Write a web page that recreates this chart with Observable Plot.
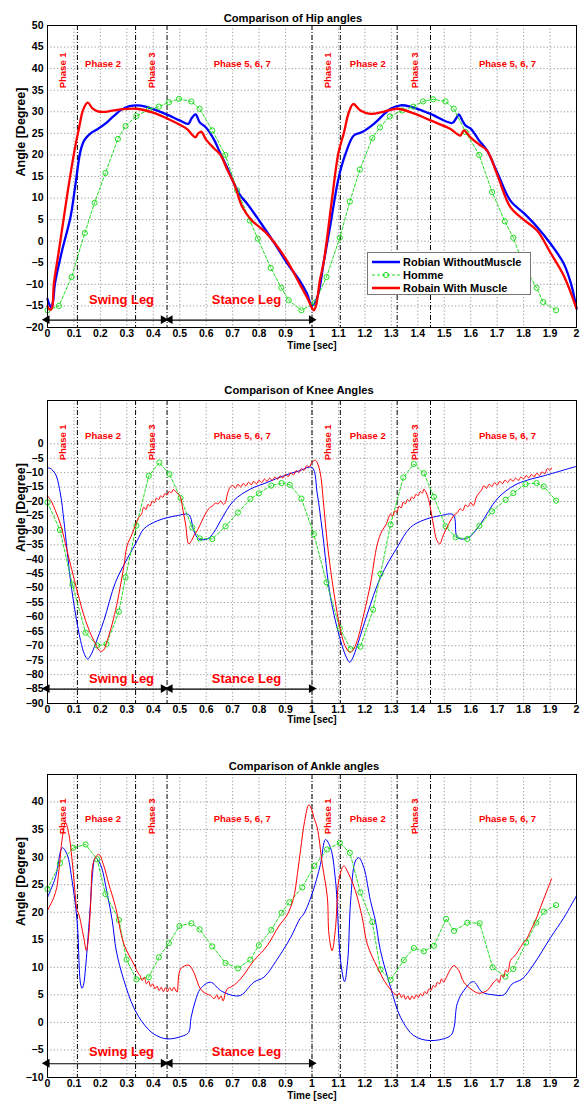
<!DOCTYPE html>
<html><head><meta charset="utf-8">
<script src="https://cdn.jsdelivr.net/npm/d3@7"></script>
<script src="https://cdn.jsdelivr.net/npm/@observablehq/plot@0.6"></script>
<style>
body{margin:0;background:#fff;font-family:"Liberation Sans",Arial,sans-serif;}
#wrap{position:relative;width:586px;}
#wrap svg{display:block;}
.legend{position:absolute;background:#fff;border:1px solid #777;box-sizing:border-box;font-weight:bold;font-size:11px;padding-top:2px;}
.legend .row{display:flex;align-items:center;height:13.3px;}
.legend svg{margin:0 3px 0 4px;}
</style></head><body><div id="wrap"></div>
<script>
// ---------- shared axes / annotations ----------
const xTicks = [0,0.1,0.2,0.3,0.4,0.5,0.6,0.7,0.8,0.9,1,1.1,1.2,1.3,1.4,1.5,1.6,1.7,1.8,1.9,2];
const hipTicks = [-20,-15,-10,-5,0,5,10,15,20,25,30,35,40,45,50];
const kneeTicks = [-90,-85,-80,-75,-70,-65,-60,-55,-50,-45,-40,-35,-30,-25,-20,-15,-10,-5,0];
const ankleTicks = [-10,-5,0,5,10,15,20,25,30,35,40];
const phaseLines = [0.113,0.333,0.452,1.0,1.107,1.322,1.448,2.0];
const phaseNames = ["Phase 1","Phase 2","Phase 3","Phase 5, 6, 7","Phase 1","Phase 2","Phase 3","Phase 5, 6, 7"];
const phaseCenters = [0.06,0.21,0.396,0.736,1.06,1.211,1.388,1.739];
const phaseVertical = [true,false,true,false,true,false,true,false];
const legNames = ["Swing Leg","Stance Leg"];
const legStart = [0,0.465];
const legEnd = [0.44,1.0];
const legCenter = [0.28,0.752];
const seriesNames = ["Robian WithoutMuscle","Homme","Robain With Muscle"];
const seriesColors = ["#0000ff","#22dd22","#ff0000"];
const panelTitles = ["Comparison of Hip angles","Comparison of Knee Angles","Comparison of Ankle angles"];

// ---------- Hip ----------
const hipWithout = [[0,-13.4],[0.008,-14.8],[0.015,-15.3],[0.022,-13.5],[0.028,-9.9],[0.055,-2.2],[0.087,5.6],[0.106,13.3],[0.125,21],[0.14,23.5],[0.163,25],[0.19,26],[0.22,27.3],[0.25,29],[0.28,30.5],[0.31,31.3],[0.34,31.5],[0.37,31.2],[0.4,30.6],[0.45,29.4],[0.5,28],[0.532,27.2],[0.545,28.5],[0.56,29.4],[0.575,27.6],[0.6,26.3],[0.63,23.5],[0.654,20.3],[0.68,17],[0.705,13.4],[0.73,10.5],[0.755,8.7],[0.8,4.8],[0.868,-1.4],[0.905,-5],[0.954,-9.2],[0.98,-12],[1.0,-14.9],[1.02,-13],[1.045,-4.6],[1.07,4],[1.1,14.5],[1.127,20.3],[1.158,24.5],[1.19,25.3],[1.234,27.2],[1.297,30.7],[1.335,31.5],[1.372,31.2],[1.448,29.5],[1.53,27.4],[1.545,28.5],[1.555,29.4],[1.57,27.8],[1.581,26.8],[1.6,26.1],[1.63,23.5],[1.662,21],[1.7,16],[1.75,9.4],[1.801,6.5],[1.851,3.3],[1.902,-0.6],[1.952,-5.2],[1.98,-10],[2.0,-15.6]];
const hipHomme = [[0,-16],[0.043,-15],[0.091,-8.3],[0.141,1.9],[0.178,8.9],[0.219,15.8],[0.266,23.7],[0.295,26.7],[0.336,29],[0.383,30.5],[0.421,31.2],[0.459,32.2],[0.497,33],[0.544,32.4],[0.575,30.7],[0.623,25.7],[0.672,20],[0.717,11.8],[0.765,4.8],[0.795,0.6],[0.844,-6.2],[0.884,-10.8],[0.912,-13.7],[0.96,-16],[1.01,-14.3],[1.055,-8.3],[1.105,0.8],[1.143,9.2],[1.181,16.6],[1.228,23.9],[1.257,26.4],[1.294,28.9],[1.341,30.3],[1.383,31.2],[1.42,32.4],[1.458,32.9],[1.505,32.4],[1.536,30.7],[1.581,25.3],[1.632,20],[1.681,11.4],[1.729,4.6],[1.761,0.8],[1.801,-5.6],[1.849,-10.8],[1.874,-14.1],[1.923,-16]];
const hipWith = [[0,-15],[0.011,-15.9],[0.018,-15.2],[0.024,-9.9],[0.043,-2.2],[0.062,5.6],[0.081,13.3],[0.102,21],[0.12,26.5],[0.135,30.5],[0.152,32.1],[0.17,30.8],[0.19,30.1],[0.22,30],[0.27,30.5],[0.336,30.7],[0.4,29.8],[0.45,28.5],[0.5,27],[0.528,26],[0.545,24.8],[0.559,24.1],[0.57,25],[0.581,25.4],[0.6,23.5],[0.63,21.5],[0.654,20],[0.68,16.5],[0.705,13.4],[0.736,8],[0.77,5],[0.83,1.7],[0.9,-4],[0.957,-10.3],[0.985,-13.5],[1.0,-15.5],[1.007,-16],[1.015,-15],[1.03,-9],[1.045,-4.6],[1.076,10],[1.1,20.5],[1.12,25],[1.14,30],[1.156,31.8],[1.183,30.3],[1.221,29.5],[1.27,30],[1.322,30.7],[1.39,29.5],[1.448,28],[1.524,26],[1.545,25],[1.561,24.5],[1.574,25.7],[1.6,24],[1.63,22.5],[1.662,21],[1.7,15.5],[1.75,7.9],[1.8,5],[1.851,2.5],[1.9,-2.5],[1.952,-8],[2.0,-15.6]];

// ---------- Knee ----------
const kneeWithout = [[0,-8.4],[0.01,-8.5],[0.03,-10.5],[0.049,-17.4],[0.062,-26.7],[0.087,-47.4],[0.106,-59],[0.125,-68.2],[0.14,-73],[0.152,-74.6],[0.165,-73],[0.181,-69.4],[0.213,-61.3],[0.257,-48],[0.301,-39.9],[0.339,-33.6],[0.364,-29.5],[0.415,-26.7],[0.49,-24.9],[0.534,-24.6],[0.553,-30.1],[0.572,-33],[0.604,-33],[0.629,-30.7],[0.654,-26.7],[0.704,-19.7],[0.767,-15.7],[0.83,-13.4],[0.893,-11.1],[0.954,-9.3],[1.0,-8.2],[1.02,-17.4],[1.039,-30.1],[1.07,-53.2],[1.108,-68.2],[1.13,-74],[1.143,-75.7],[1.155,-74],[1.171,-69.9],[1.209,-59],[1.259,-46.3],[1.322,-35.9],[1.372,-29],[1.423,-26.4],[1.486,-24.9],[1.534,-24.6],[1.549,-32.4],[1.574,-33],[1.6,-31.9],[1.637,-27.8],[1.7,-19.1],[1.763,-14.5],[1.814,-12.6],[1.876,-11.1],[2.0,-7.8]];
const kneeHomme = [[0,-20.3],[0.047,-29.9],[0.094,-48.8],[0.144,-65.5],[0.188,-69.9],[0.223,-69.4],[0.27,-58.2],[0.295,-46.3],[0.336,-28.4],[0.383,-11.1],[0.423,-6.5],[0.461,-10.5],[0.503,-18.8],[0.547,-29],[0.576,-32.8],[0.623,-33],[0.673,-28.6],[0.72,-23.8],[0.767,-19.1],[0.799,-17.2],[0.846,-14.5],[0.885,-13.6],[0.916,-14.2],[0.96,-19],[1.007,-31.3],[1.055,-48],[1.105,-63.9],[1.146,-71.1],[1.183,-70.3],[1.231,-57.5],[1.259,-45.1],[1.297,-28],[1.345,-11.7],[1.385,-7],[1.423,-10.2],[1.461,-18.4],[1.505,-28.6],[1.543,-32.4],[1.587,-33],[1.633,-28.4],[1.681,-23.4],[1.732,-19.4],[1.761,-17.1],[1.807,-14],[1.849,-13.6],[1.876,-14.8],[1.923,-19.7]];
const kneeWith = [[0,-18],[0.015,-20],[0.03,-23.2],[0.049,-27.8],[0.062,-32.4],[0.074,-37],[0.112,-50.9],[0.144,-61.3],[0.175,-68.2],[0.2,-71.9],[0.212,-71.5],[0.226,-68.2],[0.257,-57.8],[0.288,-42.8],[0.301,-35.3],[0.32,-31.3],[0.334,-27.8],[0.345,-25.5],[0.355,-24.5],[0.364,-22],[0.372,-22.8],[0.38,-21],[0.388,-21.6],[0.396,-19.8],[0.404,-20.4],[0.412,-18.8],[0.42,-19.4],[0.428,-18],[0.436,-18.6],[0.444,-17.2],[0.452,-17.8],[0.46,-16.5],[0.468,-17],[0.476,-15.8],[0.485,-16.6],[0.495,-17.5],[0.503,-18.6],[0.512,-23],[0.522,-27.8],[0.534,-34.7],[0.545,-33.5],[0.555,-31.5],[0.566,-30.1],[0.585,-26.5],[0.604,-23.2],[0.615,-22],[0.625,-21.5],[0.635,-20.5],[0.645,-20.8],[0.655,-19.8],[0.665,-21],[0.672,-20.5],[0.68,-17.5],[0.69,-15.1],[0.7,-14.4],[0.71,-15.4],[0.72,-14],[0.73,-15],[0.74,-13.7],[0.75,-14.6],[0.76,-13.3],[0.77,-14.2],[0.78,-13],[0.79,-13.9],[0.8,-12.6],[0.81,-13.5],[0.82,-12.2],[0.83,-13],[0.84,-11.9],[0.85,-12.7],[0.86,-11.5],[0.87,-12.3],[0.88,-11.1],[0.89,-11.9],[0.9,-10.6],[0.91,-11.4],[0.92,-10],[0.93,-10.8],[0.94,-9.3],[0.95,-10],[0.96,-8.6],[0.97,-9.2],[0.98,-7.6],[0.99,-8],[1.0,-6.5],[1.013,-5.7],[1.022,-7],[1.032,-10.5],[1.045,-22],[1.057,-33.6],[1.076,-47.4],[1.108,-64.7],[1.125,-70],[1.143,-72.3],[1.155,-71.5],[1.171,-68.2],[1.196,-59],[1.221,-48.6],[1.247,-34.7],[1.265,-30.1],[1.28,-28],[1.297,-24.3],[1.305,-25],[1.313,-23.2],[1.321,-23.8],[1.329,-21.6],[1.337,-22.2],[1.345,-20.2],[1.353,-20.8],[1.361,-19.3],[1.369,-19.9],[1.377,-18.4],[1.385,-19],[1.393,-17.5],[1.401,-18],[1.409,-16.6],[1.417,-17.1],[1.423,-15.7],[1.432,-17],[1.442,-19.7],[1.451,-24],[1.461,-29],[1.47,-33],[1.483,-34.7],[1.495,-32],[1.51,-29],[1.536,-24.9],[1.55,-23.8],[1.56,-22.5],[1.57,-23.2],[1.58,-21.2],[1.59,-21.8],[1.6,-20.3],[1.61,-21.5],[1.62,-18.8],[1.63,-17.2],[1.64,-16.2],[1.65,-14.5],[1.66,-15.4],[1.67,-14],[1.68,-14.8],[1.69,-13.5],[1.7,-14.3],[1.71,-13],[1.72,-13.8],[1.73,-12.6],[1.74,-13.4],[1.75,-12.2],[1.76,-13],[1.77,-11.9],[1.78,-12.7],[1.79,-11.5],[1.8,-12.2],[1.81,-11],[1.82,-11.8],[1.83,-10.6],[1.84,-11.4],[1.85,-10.2],[1.86,-11],[1.87,-9.7],[1.88,-10.4],[1.89,-8.6],[1.9,-9.2],[1.905,-8.4]];

// ---------- Ankle ----------
const ankleWithout = [[0,22.7],[0.03,26.3],[0.056,31.7],[0.074,30.5],[0.093,25.7],[0.112,18.4],[0.125,7],[0.131,6.2],[0.137,7],[0.144,10],[0.156,17.2],[0.163,22],[0.169,26.3],[0.181,29.9],[0.2,28.7],[0.226,23.3],[0.245,18.4],[0.26,13],[0.289,7.6],[0.326,2.7],[0.364,-0.3],[0.402,-2.1],[0.452,-3],[0.515,-2.4],[0.534,-1.8],[0.543,0.9],[0.559,3.9],[0.578,6.1],[0.616,7.3],[0.654,5.8],[0.692,5],[0.73,4.9],[0.78,7.3],[0.818,8.2],[0.869,11.5],[0.919,15.4],[0.954,18.8],[0.969,19.7],[1.0,23.3],[1.032,28.7],[1.051,33.2],[1.07,31.7],[1.089,25.7],[1.108,11.2],[1.123,7.4],[1.135,11.2],[1.146,22],[1.164,29.3],[1.177,29.9],[1.196,28.1],[1.221,22.1],[1.24,18.4],[1.259,13],[1.297,6.4],[1.335,0.9],[1.385,-2.4],[1.448,-3.3],[1.524,-2.4],[1.537,-0.9],[1.549,3.4],[1.574,5.8],[1.61,7.4],[1.643,5.5],[1.687,5],[1.725,5],[1.757,7],[1.795,7.9],[1.839,10.6],[1.902,15.4],[1.952,19],[2.0,23]];
const ankleHomme = [[0,24.2],[0.047,28.9],[0.097,31.7],[0.144,32.3],[0.188,29.6],[0.219,23.3],[0.27,18.6],[0.299,11.4],[0.336,7.8],[0.383,8.2],[0.421,11.8],[0.459,14.4],[0.499,17.5],[0.544,18],[0.575,16.9],[0.623,13.8],[0.673,10.8],[0.72,9.8],[0.767,11.4],[0.799,14],[0.846,16.8],[0.885,19.9],[0.914,21.8],[0.963,24.5],[1.009,28.4],[1.057,31.4],[1.105,32.6],[1.143,30.8],[1.183,23.6],[1.228,18.2],[1.259,9.6],[1.297,7.7],[1.347,11.3],[1.385,13.5],[1.423,12.9],[1.461,13.9],[1.507,18.8],[1.537,16.6],[1.587,18.1],[1.634,18],[1.683,10],[1.731,8.3],[1.761,9.7],[1.81,14.5],[1.848,18.1],[1.877,20.1],[1.923,21.3]];
const ankleWith = [[0,20.3],[0.024,22.7],[0.035,24.5],[0.043,27.5],[0.056,33.5],[0.068,36.3],[0.081,34.1],[0.097,27.5],[0.112,20.3],[0.118,19.7],[0.137,15.4],[0.147,13],[0.156,16],[0.163,21.5],[0.175,29.3],[0.194,30.5],[0.213,28.4],[0.232,25.1],[0.257,21],[0.289,14.2],[0.326,10.6],[0.342,9],[0.35,8.5],[0.358,7.6],[0.366,8.2],[0.374,7],[0.382,7.5],[0.39,6.5],[0.398,7],[0.406,6.1],[0.414,6.6],[0.422,5.8],[0.43,6.4],[0.438,5.6],[0.446,6.3],[0.454,5.6],[0.462,6.3],[0.47,5.7],[0.478,6.4],[0.486,5.7],[0.49,5.5],[0.503,9.7],[0.534,10.4],[0.553,9.1],[0.578,6.1],[0.6,5.2],[0.616,4.9],[0.63,4.3],[0.64,5],[0.648,4.2],[0.656,4.8],[0.664,3.9],[0.672,5.2],[0.68,6.1],[0.7,6.6],[0.73,7.9],[0.78,11.2],[0.83,13.9],[0.875,17.5],[0.906,19.5],[0.93,22.5],[0.945,27],[0.957,31.4],[0.972,36.5],[0.988,39.5],[1.0,38.5],[1.007,37.2],[1.02,35.3],[1.039,28.7],[1.058,22.7],[1.064,16],[1.076,13],[1.089,17.2],[1.095,22],[1.101,25.7],[1.12,28.4],[1.139,26.9],[1.164,23.9],[1.19,19],[1.209,14.2],[1.247,10],[1.285,6.7],[1.322,4.9],[1.33,5.3],[1.338,4.5],[1.346,5],[1.354,4.2],[1.362,4.8],[1.37,4.1],[1.378,4.8],[1.386,4.3],[1.394,5],[1.402,4.5],[1.41,5.2],[1.418,4.8],[1.426,5.6],[1.434,5.2],[1.442,6.1],[1.45,5.8],[1.458,6.7],[1.466,6.4],[1.474,7.3],[1.482,7],[1.49,7.9],[1.498,7.3],[1.505,7.9],[1.536,10.3],[1.555,9.4],[1.574,7.3],[1.605,5.9],[1.63,5.3],[1.662,5.8],[1.687,7.3],[1.7,7.8],[1.708,7.2],[1.716,8.6],[1.724,8.2],[1.732,9.5],[1.74,9.1],[1.75,11.2],[1.76,11.8],[1.77,12.3],[1.788,13.6],[1.8,14.5],[1.81,15],[1.826,16.6],[1.845,18.5],[1.864,20.9],[1.885,23.5],[1.906,26.1]];

// per-panel annotation levels (degrees)
const rotLabelLevel = [39.6, 0.5, 37.4];
const flatLabelLevel = [41, 2.8, 37];
const arrowLevel = [-18.3, -85, -7.5];
const legTextLevel = [-13.5, -81.3, -5.3];

// ---------- build ----------
const toRows = a => a.map(([t, v]) => ({t, v}));
const FONT = "'Liberation Sans', Arial, Helvetica, sans-serif";

function panel(i, cfg) {
  const [without, homme, withM] = cfg.series.map(toRows);
  const phases = phaseNames.map((name, k) => ({name, t: phaseCenters[k], vertical: phaseVertical[k]}));
  const legs = legNames.map((name, k) => ({name, a: legStart[k], b: legEnd[k], c: legCenter[k], y: arrowLevel[i], ty: legTextLevel[i]}));
  const heads = legs.flatMap(d => [{t: d.a, y: d.y, dir: -90, dx: 3}, {t: d.b, y: d.y, dir: 90, dx: -3}]);
  const grid = {stroke: "#555", strokeOpacity: 0.75, strokeDasharray: "1.2,2.2", strokeWidth: 0.8};
  return Plot.plot({
    width: 586, height: cfg.height,
    marginLeft: 47, marginRight: 10, marginTop: cfg.mt, marginBottom: cfg.mb,
    x: {domain: [0, 2]},
    y: {domain: cfg.domain},
    style: {fontFamily: FONT, fontSize: "10px", fontWeight: "bold", background: "white", color: "black", overflow: "visible"},
    marks: [
      Plot.ruleX(xTicks, grid),
      Plot.ruleY(cfg.ticks, grid),
      Plot.ruleX(phaseLines, {stroke: "black", strokeWidth: 1, strokeDasharray: "5,2,1,2"}),
      Plot.axisX(xTicks, {tickSize: 0, tickPadding: 2, tickFormat: d => String(d), label: null, fontSize: 10.5, fontWeight: "bold"}),
      Plot.axisY(cfg.ticks, {tickSize: 0, tickPadding: 4, label: null, fontSize: 10.5, fontWeight: "bold"}),
      Plot.line(without, {x: "t", y: "v", stroke: seriesColors[0], strokeWidth: cfg.sw, curve: "catmull-rom"}),
      Plot.line(homme, {x: "t", y: "v", stroke: seriesColors[1], strokeWidth: 1, strokeDasharray: "3,2"}),
      Plot.dot(homme, {x: "t", y: "v", r: 2.6, stroke: seriesColors[1], strokeWidth: 1, fill: "none"}),
      Plot.line(withM, {x: "t", y: "v", stroke: seriesColors[2], strokeWidth: cfg.sw, curve: "catmull-rom"}),
      Plot.text(phases.filter(d => d.vertical), {x: "t", y: () => rotLabelLevel[i], text: "name", rotate: -90, fill: "#ff0000", fontSize: 9.5, fontWeight: "bold"}),
      Plot.text(phases.filter(d => !d.vertical), {x: "t", y: () => flatLabelLevel[i], text: "name", fill: "#ff0000", fontSize: 9.5, fontWeight: "bold"}),
      Plot.link(legs, {x1: "a", x2: "b", y1: "y", y2: "y", stroke: "black", strokeWidth: 1.2}),
      Plot.dot(heads, {x: "t", y: "y", dx: "dx", symbol: "triangle", rotate: "dir", r: 3.3, fill: "black", stroke: "none"}),
      Plot.text(legs, {x: "c", y: "ty", text: "name", fill: "#ff0000", fontSize: 13, fontWeight: "bold"}),
      Plot.frame({stroke: "black", strokeWidth: 1}),
      Plot.text([panelTitles[i]], {frameAnchor: "top", dx: cfg.titleDx, dy: cfg.titleDy, fontSize: 11.2, fontWeight: "bold", fill: "black"}),
      Plot.text(["Time [sec]"], {frameAnchor: "bottom", dy: cfg.timeDy, fontSize: 10, fontWeight: "bold", fill: "black"}),
      Plot.text(["Angle [Degree]"], {frameAnchor: "left", dx: -27, rotate: -90, fontSize: 12.5, fontWeight: "bold", fill: "black"})
    ]
  });
}

const wrap = document.getElementById("wrap");
wrap.append(panel(0, {series: [hipWithout, hipHomme, hipWith], height: 360, mt: 25, mb: 33, domain: [-20, 50], ticks: hipTicks, sw: 2.3, titleDx: -19, titleDy: -11, timeDy: 21}));
wrap.append(panel(1, {series: [kneeWithout, kneeHomme, kneeWith], height: 370, mt: 40, mb: 27, domain: [-90, 15], ticks: kneeTicks, sw: 1, titleDx: -13, titleDy: -14, timeDy: 19.5}));
wrap.append(panel(2, {series: [ankleWithout, ankleHomme, ankleWith], height: 375, mt: 44, mb: 28, domain: [-10, 45], ticks: ankleTicks, sw: 1, titleDx: -8, titleDy: -12, timeDy: 21.5}));

// legend (hip panel)
const leg = document.createElement("div");
leg.className = "legend";
Object.assign(leg.style, {left: "367px", top: "252px", width: "164px", height: "43px"});
seriesNames.forEach((name, k) => {
  const row = document.createElement("div");
  row.className = "row";
  const dash = k === 1 ? "3,2" : "none";
  const sw = k === 1 ? 1 : 2.5;
  const circ = k === 1 ? `<circle cx="14" cy="5" r="2.6" fill="none" stroke="${seriesColors[k]}" stroke-width="1"/>` : "";
  row.innerHTML = `<svg width="28" height="10"><line x1="0" x2="28" y1="5" y2="5" stroke="${seriesColors[k]}" stroke-width="${sw}" stroke-dasharray="${dash}"/>${circ}</svg><span>${name}</span>`;
  leg.append(row);
});
wrap.append(leg);
</script></body></html>
